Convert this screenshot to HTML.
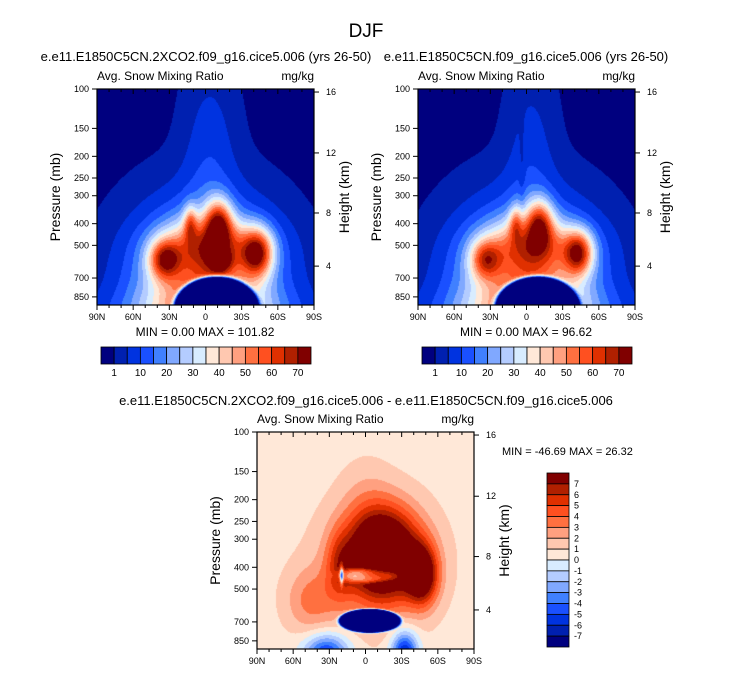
<!DOCTYPE html>
<html><head><meta charset="utf-8"><style>
body{margin:0;background:#fff;width:733px;height:673px;position:relative;overflow:hidden;font-family:"Liberation Sans",sans-serif}
canvas{position:absolute}
svg{position:absolute;left:0;top:0}
</style></head><body>
<canvas id="c1" style="left:97px;top:89px" width="217" height="216"></canvas>
<canvas id="c2" style="left:418px;top:89px" width="217" height="216"></canvas>
<canvas id="c3" style="left:257px;top:432px" width="217" height="217"></canvas>
<svg id="ov" width="733" height="673"></svg>
<script>
// Data: contour levels and colors
const levels = [1,5,10,15,20,25,30,35,40,45,50,55,60,65,70];
const levelLabels = ["1","10","20","30","40","50","60","70"];
const diffLevels = [-7,-6,-5,-4,-3,-2,-1,0,1,2,3,4,5,6,7];
const diffLabels = ["-7","-6","-5","-4","-3","-2","-1","0","1","2","3","4","5","6","7"];
const palette = ["#00007f","#0020b0","#0033e0","#1a50ff","#4080ff","#80a8ff","#b4ccff","#d8ecff","#ffe8d8","#ffc8b0","#ffa080","#ff7040","#ff5020","#e03000","#b02000","#800000"];
const latLabels = ["90N","60N","30N","0","30S","60S","90S"];
const presLabels = [100,150,200,250,300,400,500,700,850];
const heightLabels = [16,12,8,4];
// field features per panel: [xfrac, yfrac, amplitude, sx, sy, power]
const blobs1 = [[0.5,0.95,55,0.3,0.35,2],[0.5,1.05,12,0.45,0.12,2],[0.52,0.35,8,0.12,0.45,2],[0.53,0.72,30,0.22,0.12,2],[0.31,0.79,40,0.07,0.09,2],[0.43,0.62,25,0.03,0.08,2],[0.56,0.62,42,0.06,0.11,2],[0.57,0.80,25,0.05,0.05,2],[0.74,0.76,48,0.07,0.11,2],[0.55,1.02,-300,0.18,0.14,8]];
const blobs2 = [[0.5,0.95,53,0.3,0.35,2],[0.5,1.05,12,0.45,0.12,2],[0.52,0.35,7,0.11,0.45,2],[0.48,0.4,-4,0.015,0.2,2],[0.53,0.72,27,0.22,0.12,2],[0.31,0.79,34,0.07,0.09,2],[0.45,0.62,22,0.03,0.08,2],[0.56,0.62,38,0.06,0.11,2],[0.74,0.76,46,0.065,0.1,2],[0.55,1.02,-300,0.18,0.14,8]];
const blobs3 = [[0.55,0.62,2.2,0.28,0.3,2],[0.25,0.78,2.5,0.12,0.15,2],[0.5,0.3,0.8,0.12,0.2,2],[0.58,0.56,11,0.16,0.2,2],[0.76,0.66,8,0.07,0.13,2],[0.38,0.62,3,0.06,0.15,2],[0.52,0.66,-6,0.14,0.035,4],[0.39,0.66,-9,0.008,0.04,2],[0.52,0.87,-60,0.13,0.05,8],[0.32,1.02,-6,0.1,0.09,2],[0.68,1.02,-7,0.06,0.1,2]];
const baseline3 = 0.5;

function field(bl,x,y,base){let v=base;for(const b of bl){const dx=(x-b[0])/b[3],dy=(y-b[1])/b[4];const r2=dx*dx+dy*dy;v+=b[2]*Math.exp(-Math.pow(r2,b[5]/2));}return v;}
function colorOf(v,lv){let i=0;while(i<lv.length&&v>=lv[i])i++;return palette[i];}
function draw(id,bl,lv,base,clamp){const c=document.getElementById(id),g=c.getContext('2d');const W=c.width,H=c.height;for(let py=0;py<H;py+=1)for(let px=0;px<W;px+=1){let v=field(bl,(px+0.5)/W,(py+0.5)/H,base);if(clamp)v=Math.max(0,v);g.fillStyle=colorOf(v,lv);g.fillRect(px,py,1,1);}}
draw('c1',blobs1,levels,0,true);
draw('c2',blobs2,levels,0,true);
draw('c3',blobs3,diffLevels,baseline3,false);

const ov=document.getElementById('ov');const NS='http://www.w3.org/2000/svg';
function el(t,a,txt){const e=document.createElementNS(NS,t);for(const k in a)e.setAttribute(k,a[k]);if(txt!==undefined)e.textContent=txt;ov.appendChild(e);return e;}
function txt(x,y,s,size,anchor,name,rot){const e=el('text',{x:x,y:y,'font-size':size,'text-anchor':anchor||'middle',fill:'#000'},s);if(rot)e.setAttribute('transform','rotate(-90 '+x+' '+y+')');return e;}
function yP(top,H,p){return top+H*Math.log10(p/100)/Math.log10(9.24);}
function panel(L,T,W,H,k){
 const r=el('rect',{x:L,y:T,width:W,height:H,fill:'none',stroke:'#000','stroke-width':1.2});
 
 for(let i=0;i<=18;i++){const x=L+W*i/18,len=(i%3==0)?5:3;el('line',{x1:x,y1:T,x2:x,y2:T+len,stroke:'#000'});el('line',{x1:x,y1:T+H,x2:x,y2:T+H+len,stroke:'#000'});}
 latLabels.forEach((s,i)=>txt(L+W*i/6,T+H+15,s,9,'middle','x-tick-label'));
 presLabels.forEach(p=>{const y=yP(T,H,p);el('line',{x1:L-5,y1:y,x2:L,y2:y,stroke:'#000'});txt(L-8,y+3,String(p),9,'end','y-tick-label');});
 const hy=[0.014,0.296,0.574,0.82];
 heightLabels.forEach((h,i)=>{const y=T+H*hy[i];el('line',{x1:L+W,y1:y,x2:L+W+5,y2:y,stroke:'#000'});txt(L+W+12,y+3,String(h),9,'start','height-tick-label');});
 txt(L,T-9,'Avg. Snow Mixing Ratio',12,'start','variable-label');
 txt(L+W,T-9,'mg/kg',12,'end','units-label');
 txt(L-37,T+H/2,'Pressure (mb)',14,'middle','y-axis-title',true);
 txt(L+W+35,T+H/2,'Height (km)',14,'middle','right-axis-title',true);
}
txt(366,37,'DJF',19,'middle','main-title');
txt(206,61,'e.e11.E1850C5CN.2XCO2.f09_g16.cice5.006 (yrs 26-50)',13,'middle','panel1-title');
txt(526,61,'e.e11.E1850C5CN.f09_g16.cice5.006 (yrs 26-50)',13,'middle','panel2-title');
txt(366,405,'e.e11.E1850C5CN.2XCO2.f09_g16.cice5.006 - e.e11.E1850C5CN.f09_g16.cice5.006',13,'middle','diff-title');
panel(97,89,217,216,'1');panel(418,89,217,216,'2');panel(257,432,217,217,'3');
txt(205,336,'MIN =   0.00  MAX = 101.82',12,'middle','panel1-minmax');
txt(526,336,'MIN =   0.00  MAX = 96.62',12,'middle','panel2-minmax');
txt(502,455,'MIN = -46.69  MAX =  26.32',11,'start','diff-minmax');
function hbar(L,T,W,H,k){const n=palette.length,bw=W/n;palette.forEach((c,i)=>{const r=el('rect',{x:L+i*bw,y:T,width:bw,height:H,fill:c,stroke:'#000','stroke-width':0.8});});
 levelLabels.forEach((s,i)=>txt(L+bw*(1+2*i),T+H+12,s,10,'middle','colorbar-label'));}
hbar(101,347,210,17,'1');hbar(422,347,210,17,'2');
(function(){const L=547,T=473,W=22,H=174,n=palette.length,bh=H/n;for(let i=0;i<n;i++){const r=el('rect',{x:L,y:T+i*bh,width:W,height:bh,fill:palette[n-1-i],stroke:'#000','stroke-width':0.8});}
 for(let i=0;i<diffLabels.length;i++){txt(L+W+5,T+bh*(i+1)+3,diffLabels[diffLabels.length-1-i],9,'start','diff-colorbar-label');}})();
</script>
</body></html>
